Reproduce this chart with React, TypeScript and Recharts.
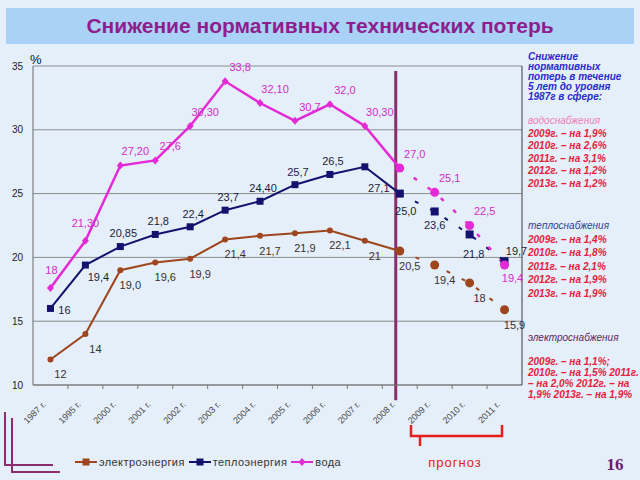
import React from "react";
import { LineChart, Line, XAxis, YAxis, CartesianGrid, LabelList, ReferenceLine } from "recharts";

// categories: 1987..2008 fact, 2009..2011 forecast
const years = ["1987 г.", "1995 г.", "2000 г.", "2001 г.", "2002 г.", "2003 г.", "2004 г.", "2005 г.", "2006 г.", "2007 г.", "2008 г.", "2009 г.", "2010 г.", "2011 г."];
const lastFact = "2008 г.";

const electro = [12, 14, 19.0, 19.6, 19.9, 21.4, 21.7, 21.9, 22.1, 21.3, 20.5, 19.4, 18, 15.9];
const electroLabels = ["12", "14", "19,0", "19,6", "19,9", "21,4", "21,7", "21,9", "22,1", "21", "20,5", "19,4", "18", "15,9"];

const teplo = [16, 19.4, 20.85, 21.8, 22.4, 23.7, 24.4, 25.7, 26.5, 27.1, 25.0, 23.6, 21.8, 19.7];
const teploLabels = ["16", "19,4", "20,85", "21,8", "22,4", "23,7", "24,40", "25,7", "26,5", "27,1", "25,0", "23,6", "21,8", "19,7"];

const voda = [17.6, 21.3, 27.2, 27.6, 30.3, 33.8, 32.1, 30.7, 32.0, 30.3, 27.0, 25.1, 22.5, 19.4];
const vodaLabels = ["18", "21,30", "27,20", "27,6", "30,30", "33,8", "32,10", "30,7", "32,0", "30,30", "27,0", "25,1", "22,5", "19,4"];

const yTicks = [10, 15, 20, 25, 30, 35];

const W = 640;
const H = 480;
const M = { top: 66, right: 117, bottom: 65, left: 0 };
const YW = 33;
const half = (W - M.right - 1 - YW) / years.length / 2;
const FONT = "'Liberation Sans', Arial, sans-serif";
const split = years.indexOf(lastFact);

type Off = Record<number, [number, number]>;

const series = [
  {
    key: "el", name: "электроэнергия", values: electro, labels: electroLabels,
    color: "#9e451d", text: "#3b3030", dot: "circle", lw: 2, base: [10, 15] as [number, number], off: {} as Off,
  },
  {
    key: "tp", name: "теплоэнергия", values: teplo, labels: teploLabels,
    color: "#12126e", text: "#1c1c3c", dot: "square", lw: 2, base: [3, -13] as [number, number],
    off: { 0: [14, 2], 1: [13, 12], 9: [14, 21], 10: [6, 18], 11: [0, 14], 12: [4, 20], 13: [12, -10] } as Off,
  },
  {
    key: "vd", name: "вода", values: voda, labels: vodaLabels,
    color: "#e42ad6", text: "#d42cc8", dot: "diamond", lw: 2.5, base: [15, -14] as [number, number],
    off: { 0: [1, -18], 1: [0, -18], 13: [8, 13] } as Off,
  },
];

const data = years.map((year, i) => {
  const row: Record<string, string | number | null> = { year };
  series.forEach((s) => {
    row[s.key] = i <= split ? s.values[i] : null;
    row[s.key + "F"] = i >= split ? s.values[i] : null;
  });
  return row;
});

function mark(shape: string, cx: number, cy: number, color: string, big: boolean, key: string) {
  if (shape === "square") {
    const s = big ? 8 : 7;
    return <rect key={key} x={cx - s / 2} y={cy - s / 2} width={s} height={s} fill={color} />;
  }
  if (shape === "diamond" && !big) {
    return <polygon key={key} points={`${cx},${cy - 4} ${cx + 3.5},${cy} ${cx},${cy + 4} ${cx - 3.5},${cy}`} fill={color} />;
  }
  return <circle key={key} cx={cx} cy={cy} r={big ? 4.5 : 3} fill={color} />;
}

const makeDot = (s: typeof series[number], big: boolean) => (p: any) => {
  const key = `${s.key}${big ? "F" : ""}-d${p.index}`;
  if (p.cx == null || p.cy == null || p.value == null) return <g key={key} />;
  return mark(s.dot, p.cx, p.cy, s.color, big, key);
};

const makeLabel = (s: typeof series[number], from: number, to: number) => (p: any) => {
  const i = p.index;
  if (i == null || i < from || i > to || p.value == null) return null;
  const x = p.x ?? p.viewBox?.x;
  const y = p.y ?? p.viewBox?.y;
  if (x == null || y == null) return null;
  const [dx, dy] = s.off[i] ?? s.base;
  return (
    <text key={`${s.key}-l${i}`} x={x + dx} y={y + dy} dy="0.35em" textAnchor="middle" fontSize={11} fill={s.text} fontFamily={FONT}>
      {s.labels[i]}
    </text>
  );
};

const XTick = (p: any) => {
  const { x, y, payload, index } = p;
  const axisY = y - 4;
  return (
    <g>
      {index > 0 && <line x1={x - half} x2={x - half} y1={axisY} y2={axisY + 4} stroke="#777" />}
      <text x={0} y={0} transform={`translate(${x - 4},${axisY + 20}) rotate(-45)`} textAnchor="end" fontSize={9} fill="#4a4a4a" fontFamily={FONT}>
        {payload.value}
      </text>
    </g>
  );
};

const red = "#e8203a";

export default function App() {
  return (
    <div style={{ position: "absolute", left: 0, top: 0, width: W, height: H, background: "#e4effa", overflow: "hidden", fontFamily: FONT }}>
      <div style={{ position: "absolute", left: 6, top: 8, width: 628, height: 36, background: "#a9d2f6", color: "#8e1e8e", fontSize: 21, fontWeight: "bold", textAlign: "center", lineHeight: "36px" }}>
        Снижение нормативных технических потерь
      </div>

      <div style={{ position: "absolute", left: 0, top: 0 }}>
        <LineChart width={W} height={H} data={data} margin={M}>
          <CartesianGrid vertical={false} stroke="#8c8c8c" />
          <XAxis
            dataKey="year"
            padding={{ left: half, right: half }}
            tickLine={false}
            tickSize={4}
            tickMargin={0}
            height={30}
            interval={0}
            axisLine={{ stroke: "#777" }}
            tick={<XTick />}
          />
          <YAxis
            domain={[10, 35]}
            ticks={yTicks}
            width={YW}
            tickLine={false}
            tickMargin={4}
            axisLine={{ stroke: "#6a6a6a" }}
            tick={{ fontSize: 10, fill: "#222", fontFamily: FONT }}
          />
          <YAxis yAxisId="r" orientation="right" domain={[10, 35]} width={1} tick={false} tickLine={false} axisLine={{ stroke: "#3a3a3a" }} />
          <ReferenceLine
            segment={[{ x: lastFact, y: 34.6 }, { x: lastFact, y: 8.8 }]}
            ifOverflow="visible"
            stroke="#8b2c6c"
            strokeWidth={3}
            shape={(p: any) => <line x1={p.x1 - 4} y1={p.y1} x2={p.x2 - 4} y2={p.y2} stroke="#8b2c6c" strokeWidth={3} />}
          />
          {series.map((s) => (
            <Line
              key={s.key}
              dataKey={s.key}
              stroke={s.color}
              strokeWidth={s.lw}
              dot={makeDot(s, false)}
              activeDot={false}
              connectNulls={false}
              isAnimationActive={false}
            >
              <LabelList dataKey={s.key} content={makeLabel(s, 0, split)} />
            </Line>
          ))}
          {series.map((s) => (
            <Line
              key={s.key + "F"}
              dataKey={s.key + "F"}
              stroke={s.color}
              strokeWidth={s.lw}
              strokeDasharray="4 13"
              dot={makeDot(s, true)}
              activeDot={false}
              legendType="none"
              isAnimationActive={false}
            >
              <LabelList dataKey={s.key + "F"} content={makeLabel(s, split + 1, years.length - 1)} />
            </Line>
          ))}
        </LineChart>
      </div>

      <div style={{ position: "absolute", left: 30, top: 52, fontSize: 13, color: "#111" }}>%</div>

      {/* right-hand notes */}
      <div style={{ position: "absolute", left: 528, top: 52, fontSize: 10, lineHeight: "10px", fontWeight: "bold", fontStyle: "italic", color: "#2b2bcc", whiteSpace: "nowrap" }}>
        <div>Снижение</div>
        <div>нормативных</div>
        <div>потерь в течение</div>
        <div>5 лет до уровня</div>
        <div>1987г в сфере:</div>
      </div>
      <div style={{ position: "absolute", left: 528, top: 115, fontSize: 10, lineHeight: "12.6px", fontStyle: "italic", whiteSpace: "nowrap" }}>
        <div style={{ color: "#f27cb8" }}>водоснабжения</div>
        <div style={{ color: red, fontWeight: "bold" }}>2009г. – на 1,9%</div>
        <div style={{ color: red, fontWeight: "bold" }}>2010г. – на 2,6%</div>
        <div style={{ color: red, fontWeight: "bold" }}>2011г. – на 3,1%</div>
        <div style={{ color: red, fontWeight: "bold" }}>2012г. – на 1,2%</div>
        <div style={{ color: red, fontWeight: "bold" }}>2013г. – на 1,2%</div>
      </div>
      <div style={{ position: "absolute", left: 528, top: 219, fontSize: 10, lineHeight: "13.5px", fontStyle: "italic", whiteSpace: "nowrap" }}>
        <div style={{ color: "#383898" }}>теплоснабжения</div>
        <div style={{ color: red, fontWeight: "bold" }}>2009г. – на 1,4%</div>
        <div style={{ color: red, fontWeight: "bold" }}>2010г. – на 1,8%</div>
        <div style={{ color: red, fontWeight: "bold" }}>2011г. – на 2,1%</div>
        <div style={{ color: red, fontWeight: "bold" }}>2012г. – на 1,9%</div>
        <div style={{ color: red, fontWeight: "bold" }}>2013г. – на 1,9%</div>
      </div>
      <div style={{ position: "absolute", left: 528, top: 332, fontSize: 10, lineHeight: "12px", fontStyle: "italic", color: "#5c1f5e", whiteSpace: "nowrap" }}>
        электроснабжения
      </div>
      <div style={{ position: "absolute", left: 528, top: 356, fontSize: 10, lineHeight: "11px", fontStyle: "italic", fontWeight: "bold", color: red, whiteSpace: "nowrap" }}>
        <div>2009г. – на 1,1%;</div>
        <div>2010г. – на 1,5% 2011г.</div>
        <div>– на 2,0% 2012г. – на</div>
        <div>1,9% 2013г. – на 1,9%</div>
      </div>

      {/* legend */}
      <div style={{ position: "absolute", left: 75, top: 455, display: "flex", alignItems: "center", fontSize: 11, letterSpacing: 0.4, color: "#333", whiteSpace: "nowrap" }}>
        {series.map((s) => (
          <div key={s.key} style={{ display: "flex", alignItems: "center", marginRight: 4 }}>
            <svg width={22} height={12}>
              <line x1={0} x2={22} y1={6} y2={6} stroke={s.color} strokeWidth={2} />
              {mark(s.dot === "circle" ? "square" : s.dot, 11, 6, s.color, false, s.key)}
            </svg>
            <span style={{ marginLeft: 2, lineHeight: "14px" }}>{s.name}</span>
          </div>
        ))}
      </div>

      <svg width={W} height={H} style={{ position: "absolute", left: 0, top: 0, pointerEvents: "none" }}>
        <path d="M411 425 V436 H502 V425" fill="none" stroke="#e61e1e" strokeWidth={2.5} />
        <path d="M420 436 V446" stroke="#e61e1e" strokeWidth={2.5} />
        <path d="M5 412 V465 H53" fill="none" stroke="#8b2c6c" strokeWidth={2} />
        <path d="M12 418 V472 H60" fill="none" stroke="#8b2c6c" strokeWidth={2} />
        <text x={455} y={467} textAnchor="middle" fontSize={13} letterSpacing={1} fill="#e42020" fontFamily={FONT}>прогноз</text>
        <text x={615} y={470} textAnchor="middle" fontSize={17} fontWeight="bold" fill="#6a1a70" fontFamily="'Liberation Serif', 'DejaVu Serif', serif">16</text>
      </svg>
    </div>
  );
}
